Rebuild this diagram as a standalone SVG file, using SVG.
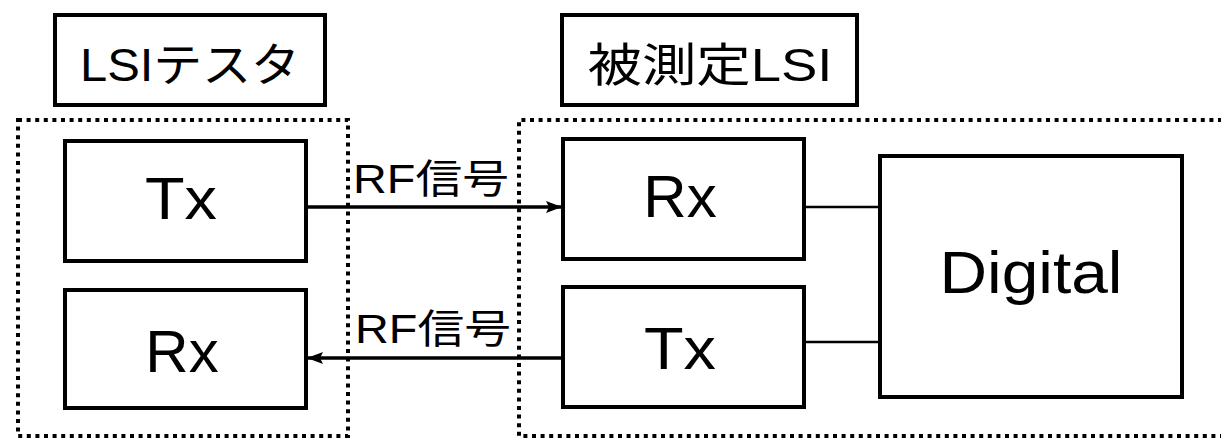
<svg xmlns="http://www.w3.org/2000/svg" width="1221" height="439" viewBox="0 0 1221 439">
<style>
.box{fill:#fff;stroke:#000;stroke-width:4}
.dot{fill:none;stroke:#000;stroke-width:4;stroke-dasharray:4 4.6}
.t{font-family:"Liberation Sans","Noto Sans CJK JP",sans-serif;fill:#000}
.big{font-size:60px}
.lbl{font-size:40px}
.hd{font-size:46px}
.ln{stroke:#000;stroke-width:3.5;fill:none}
.wire{stroke:#000;stroke-width:2.5;fill:none}
</style>
<defs>
<marker id="ah2" viewBox="0 0 16 12" refX="16" refY="6" markerWidth="16" markerHeight="12" markerUnits="userSpaceOnUse" orient="auto">
<path d="M0,0 L16,6 L0,12 L3,6 z" fill="#000"/>
</marker>
</defs>
<rect width="1221" height="439" fill="#fff"/>
<g id="tester-group">
<rect class="dot" x="18" y="120" width="330" height="316"/>
</g>
<g id="dut-group">
<path class="dot" d="M1222,120 L519,120 L519,436 L1222,436"/>
</g>
<g id="tester-label">
<rect class="box" x="55" y="15" width="270" height="90"/>
<text class="t hd" x="190" y="81" text-anchor="middle" textLength="220" lengthAdjust="spacingAndGlyphs">LSIテスタ</text>
</g>
<g id="dut-label">
<rect class="box" x="562" y="15" width="295" height="90"/>
<text class="t hd" x="710" y="81" text-anchor="middle" textLength="245" lengthAdjust="spacingAndGlyphs">被測定LSI</text>
</g>
<g id="tester-tx">
<rect class="box" x="65" y="141" width="241" height="120"/>
<text class="t big" x="181" y="219" text-anchor="middle" textLength="72" lengthAdjust="spacingAndGlyphs">Tx</text>
</g>
<g id="tester-rx">
<rect class="box" x="65" y="290" width="241" height="118"/>
<text class="t big" x="182" y="372" text-anchor="middle">Rx</text>
</g>
<g id="dut-rx">
<rect class="box" x="563" y="139" width="241" height="120"/>
<text class="t big" x="680" y="217" text-anchor="middle">Rx</text>
</g>
<g id="dut-tx">
<rect class="box" x="563" y="287" width="241" height="120"/>
<text class="t big" x="680" y="369" text-anchor="middle" textLength="72" lengthAdjust="spacingAndGlyphs">Tx</text>
</g>
<g id="digital">
<rect class="box" x="880" y="156" width="302" height="241"/>
<text class="t big" x="1031" y="293" text-anchor="middle" textLength="183" lengthAdjust="spacingAndGlyphs">Digital</text>
</g>
<g id="connectors">
<line class="ln" x1="306" y1="207" x2="562" y2="207" marker-end="url(#ah2)"/>
<line class="ln" x1="563" y1="358" x2="307" y2="358" marker-end="url(#ah2)"/>
<line class="wire" x1="804" y1="207" x2="880" y2="207"/>
<line class="wire" x1="804" y1="342" x2="880" y2="342"/>
<text class="t lbl" x="353" y="193" textLength="156" lengthAdjust="spacingAndGlyphs">RF信号</text>
<text class="t lbl" x="355" y="343" textLength="156" lengthAdjust="spacingAndGlyphs">RF信号</text>
</g>
</svg>
